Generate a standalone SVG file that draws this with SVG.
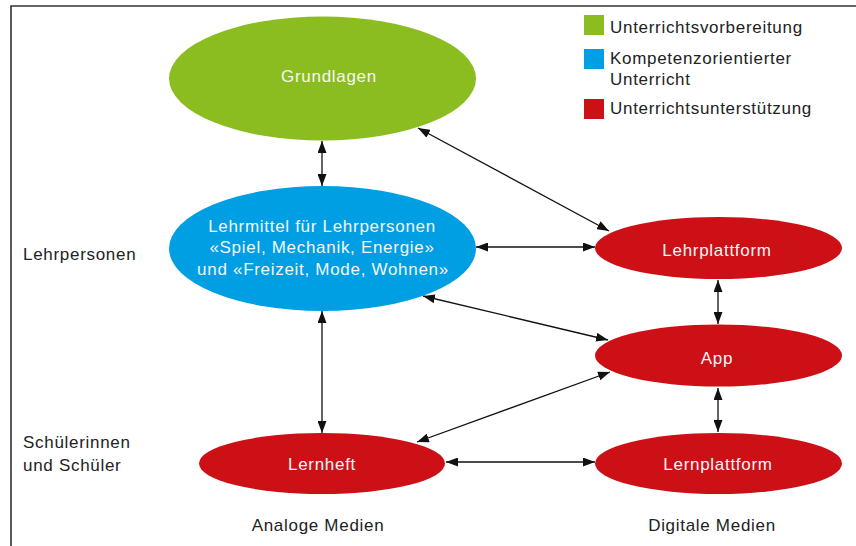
<svg xmlns="http://www.w3.org/2000/svg" width="856" height="546" viewBox="0 0 856 546">
<style>
text{font-family:"Liberation Sans",Arial,sans-serif;font-size:17px;letter-spacing:0.7px}
.lbl{fill:#222}
.nt{fill:#f5f5f5;text-anchor:middle}
.mid{text-anchor:middle}
.con line{stroke:#111;stroke-width:1.3;marker-start:url(#ah);marker-end:url(#ah)}
.frame{stroke:#333;stroke-width:1.6;fill:none}
</style>
<defs>
<marker id="ah" markerUnits="userSpaceOnUse" markerWidth="12" markerHeight="9" refX="12" refY="4.5" orient="auto-start-reverse" viewBox="0 0 12 9">
<path d="M0,0 L12,4.5 L0,9 z" fill="#111"/>
</marker>
</defs>
<rect width="856" height="546" fill="#fff"/>
<path class="frame" d="M11,546 V6 H856"/>

<g id="legend">
<rect x="584" y="15" width="20" height="20" fill="#8bbd21"/>
<text class="lbl" x="610" y="33">Unterrichtsvorbereitung</text>
<rect x="584" y="49" width="20" height="20" fill="#009fe3"/>
<text class="lbl" x="610" y="64">Kompetenzorientierter</text>
<text class="lbl" x="610" y="85">Unterricht</text>
<rect x="584" y="99" width="20" height="20" fill="#cc1016"/>
<text class="lbl" x="610" y="114">Unterrichtsunterstützung</text>
</g>

<g id="labels">
<text class="lbl" x="23" y="260">Lehrpersonen</text>
<text class="lbl" x="23" y="448">Schülerinnen</text>
<text class="lbl" x="23" y="471">und Schüler</text>
<text class="lbl mid" x="318" y="531">Analoge Medien</text>
<text class="lbl mid" x="712" y="531">Digitale Medien</text>
</g>

<g class="con" id="connectors">
<line x1="322" y1="141" x2="322" y2="186"/>
<line x1="418" y1="128" x2="609" y2="231"/>
<line x1="476" y1="247" x2="595" y2="247"/>
<line x1="423" y1="296" x2="608" y2="340"/>
<line x1="610" y1="372" x2="417" y2="442"/>
<line x1="718" y1="280" x2="718" y2="324"/>
<line x1="718" y1="388" x2="718" y2="432"/>
<line x1="322" y1="311" x2="322" y2="433"/>
<line x1="446" y1="462" x2="595" y2="462"/>
</g>

<g id="grundlagen">
<ellipse cx="322.5" cy="78.5" rx="153.5" ry="62" fill="#8bbd21"/>
<text class="nt" x="329" y="82">Grundlagen</text>
</g>
<g id="lehrmittel">
<ellipse cx="322.5" cy="248.5" rx="153.5" ry="62.5" fill="#009fe3"/>
<text class="nt" x="322" y="232">Lehrmittel für Lehrpersonen</text>
<text class="nt" x="322" y="253">«Spiel, Mechanik, Energie»</text>
<text class="nt" x="323" y="275">und «Freizeit, Mode, Wohnen»</text>
</g>
<g id="lehrplattform">
<ellipse cx="718.5" cy="248" rx="123.5" ry="31" fill="#cc1016"/>
<text class="nt" x="717" y="256">Lehrplattform</text>
</g>
<g id="app">
<ellipse cx="718.5" cy="355.5" rx="123.5" ry="31" fill="#cc1016"/>
<text class="nt" x="717" y="364">App</text>
</g>
<g id="lernheft">
<ellipse cx="322" cy="463.5" rx="123" ry="30.5" fill="#cc1016"/>
<text class="nt" x="322" y="470">Lernheft</text>
</g>
<g id="lernplattform">
<ellipse cx="718.5" cy="463.5" rx="123.5" ry="30.5" fill="#cc1016"/>
<text class="nt" x="718" y="470">Lernplattform</text>
</g>
</svg>
